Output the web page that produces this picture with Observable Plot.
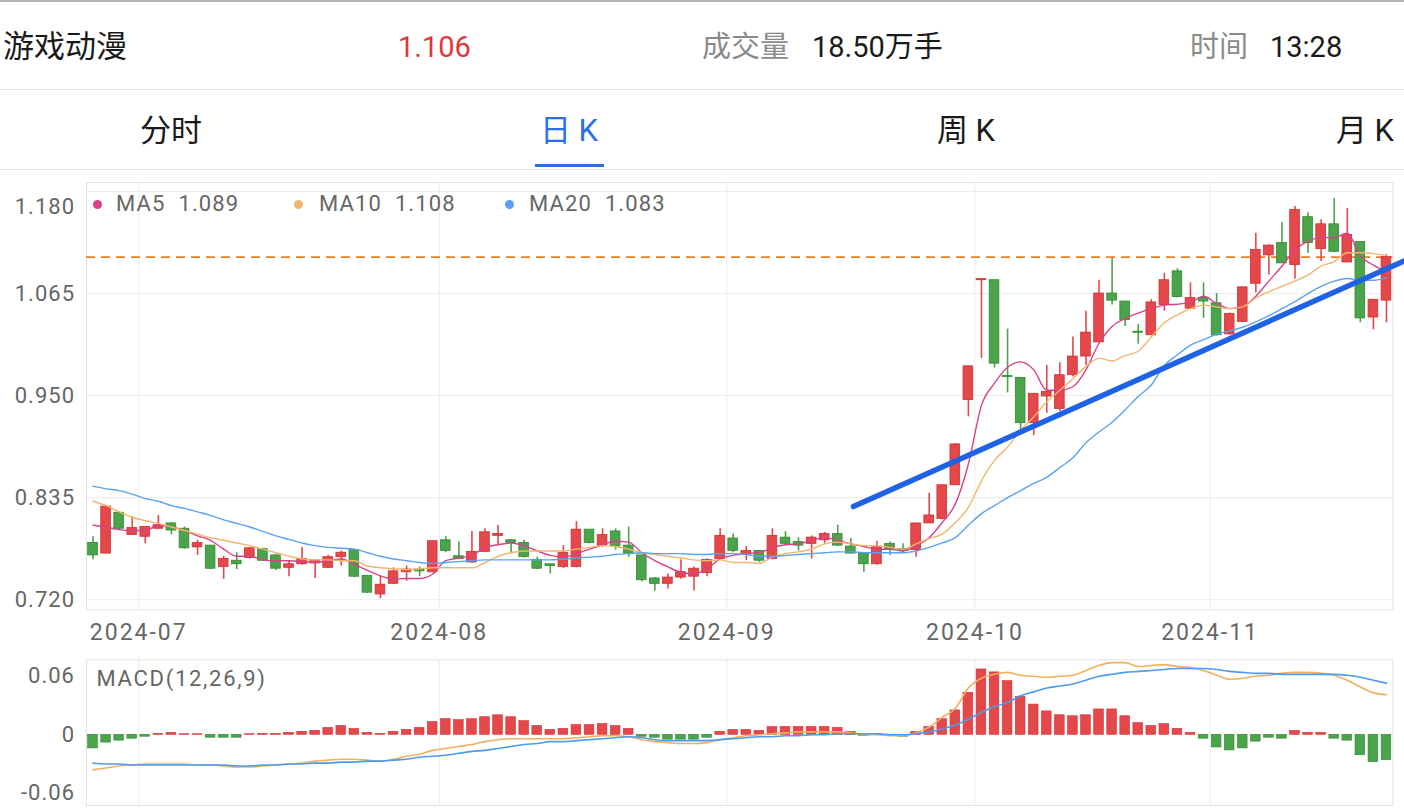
<!DOCTYPE html>
<html><head><meta charset="utf-8">
<script src="https://cdn.jsdelivr.net/npm/d3@7"></script>
<script src="https://cdn.jsdelivr.net/npm/@observablehq/plot@0.6"></script>
<style>
html,body{margin:0;padding:0;background:#fff}
body{width:1404px;height:808px;overflow:hidden;position:relative;font-family:Roboto,"Noto Sans CJK SC",sans-serif}
.abs{position:absolute;white-space:nowrap}
.h1{font-size:29px;line-height:40px;top:27px;color:#1a1a1a}
.big{font-size:31px}
.gray{color:#8a8a8a}
.tab{font-size:31px;line-height:40px;top:111px;color:#1a1a1a;transform:translateX(-50%)}
.hr{position:absolute;left:0;width:1404px;height:1px;background:#e6e6e6}
.leg{font-size:22px;line-height:26px;top:191px;color:#666;letter-spacing:1.1px}
.dot{position:absolute;width:9px;height:9px;border-radius:50%;top:200px}
#main{position:absolute;left:0;top:170px}
#macd{position:absolute;left:0;top:650px}
#main g[aria-label="x-axis tick label"]{letter-spacing:2px;font-size:23px}
g[aria-label="y-axis tick label"]{letter-spacing:1px}
#macd g[aria-label="text"]{letter-spacing:1.7px}
</style></head><body>
<div class="hr" style="top:0;height:2px;background:#b5b5b5"></div>
<div id="hdr"></div>
<div class="hr" style="top:89px"></div>
<div class="hr" style="top:169px"></div>
<div style="position:absolute;left:535px;top:164px;width:69px;height:3px;background:#2a6fe8"></div>
<div id="main"></div>
<div id="macd"></div>
<div id="legend"></div>
<script>
// ---- header info ----
const stockName = "游戏动漫";
const lastPrice = "1.106";
const volumeLabel = "成交量", volumeValue = "18.50万手";
const timeLabel = "时间", timeValue = "13:28";
const tabs = ["分时", "日 K", "周 K", "月 K"];
const activeTab = "日 K";

// ---- daily candles (index 0 = 2024-06-25 ... 99 = 2024-11-20) ----
const open  = [0.784,0.772,0.818,0.793,0.791,0.800,0.806,0.800,0.779,0.781,0.757,0.764,0.767,0.777,0.770,0.756,0.760,0.761,0.756,0.768,0.776,0.747,0.726,0.738,0.751,0.754,0.751,0.787,0.769,0.762,0.774,0.792,0.787,0.784,0.765,0.760,0.757,0.757,0.799,0.781,0.797,0.781,0.770,0.744,0.738,0.745,0.746,0.750,0.766,0.789,0.771,0.775,0.766,0.790,0.785,0.783,0.787,0.794,0.780,0.772,0.760,0.783,0.777,0.776,0.806,0.811,0.849,0.945,1.080,1.080,0.972,0.970,0.919,0.949,0.935,0.973,0.994,1.010,1.065,1.056,1.022,1.018,1.052,1.090,1.048,1.060,1.054,1.019,1.033,1.076,1.108,1.122,1.097,1.151,1.115,1.143,1.100,1.123,1.038,1.057];
const high  = [0.791,0.825,0.818,0.814,0.802,0.815,0.807,0.802,0.787,0.781,0.769,0.773,0.779,0.778,0.771,0.764,0.779,0.765,0.770,0.775,0.777,0.747,0.747,0.756,0.758,0.757,0.786,0.791,0.785,0.797,0.800,0.804,0.788,0.787,0.768,0.760,0.781,0.808,0.799,0.800,0.800,0.802,0.770,0.745,0.749,0.765,0.757,0.766,0.800,0.794,0.780,0.775,0.800,0.797,0.790,0.792,0.796,0.804,0.789,0.773,0.786,0.785,0.783,0.806,0.840,0.849,0.896,0.983,1.081,1.080,1.025,0.970,0.952,0.984,0.987,1.016,1.045,1.080,1.105,1.056,1.030,1.058,1.088,1.093,1.077,1.077,1.065,1.043,1.072,1.133,1.120,1.145,1.163,1.156,1.148,1.172,1.161,1.123,1.058,1.109];
const low   = [0.765,0.772,0.799,0.793,0.783,0.800,0.793,0.777,0.770,0.754,0.743,0.754,0.766,0.763,0.753,0.746,0.759,0.744,0.755,0.758,0.745,0.727,0.721,0.737,0.741,0.746,0.751,0.773,0.765,0.761,0.773,0.782,0.773,0.767,0.754,0.749,0.755,0.756,0.783,0.779,0.776,0.768,0.740,0.730,0.732,0.743,0.730,0.746,0.765,0.773,0.764,0.762,0.765,0.781,0.775,0.766,0.783,0.780,0.772,0.751,0.759,0.770,0.772,0.768,0.806,0.810,0.849,0.926,0.992,0.981,0.953,0.911,0.905,0.930,0.932,0.971,0.984,1.009,1.052,1.028,1.008,1.018,1.045,1.060,1.047,1.037,1.017,1.018,1.033,1.066,1.086,1.099,1.081,1.110,1.101,1.111,1.100,1.032,1.024,1.032];
const close = [0.770,0.825,0.800,0.801,0.802,0.804,0.798,0.778,0.784,0.755,0.766,0.760,0.778,0.764,0.755,0.760,0.766,0.764,0.768,0.773,0.746,0.728,0.737,0.752,0.754,0.752,0.786,0.775,0.766,0.774,0.796,0.794,0.784,0.768,0.755,0.758,0.773,0.799,0.784,0.793,0.780,0.772,0.742,0.738,0.745,0.751,0.755,0.765,0.792,0.775,0.775,0.764,0.792,0.783,0.781,0.790,0.794,0.781,0.772,0.760,0.779,0.777,0.775,0.806,0.815,0.849,0.895,0.983,1.081,0.986,0.971,0.919,0.952,0.954,0.973,0.994,1.021,1.065,1.057,1.035,1.021,1.055,1.080,1.061,1.060,1.056,1.018,1.042,1.072,1.114,1.119,1.099,1.159,1.122,1.143,1.112,1.131,1.037,1.058,1.106];

// ---- moving averages as shown ----
const ma5  = [0.804,0.802,0.799,0.798,0.798,0.804,0.802,0.798,0.792,0.787,0.777,0.769,0.769,0.765,0.764,0.764,0.763,0.762,0.764,0.766,0.760,0.753,0.747,0.743,0.744,0.744,0.749,0.764,0.767,0.770,0.779,0.782,0.784,0.781,0.775,0.770,0.768,0.772,0.777,0.782,0.786,0.785,0.773,0.764,0.757,0.751,0.749,0.755,0.766,0.770,0.772,0.773,0.779,0.782,0.783,0.787,0.790,0.787,0.783,0.780,0.777,0.777,0.775,0.781,0.790,0.807,0.828,0.873,0.939,0.964,0.982,0.988,0.979,0.956,0.956,0.960,0.979,1.009,1.028,1.037,1.043,1.048,1.052,1.053,1.055,1.062,1.054,1.048,1.050,1.062,1.079,1.096,1.114,1.124,1.128,1.128,1.133,1.107,1.097,1.089];
const ma10 = [0.831,0.826,0.819,0.813,0.809,0.806,0.802,0.798,0.794,0.790,0.787,0.784,0.781,0.777,0.773,0.769,0.766,0.765,0.765,0.764,0.764,0.758,0.756,0.755,0.754,0.755,0.756,0.756,0.756,0.756,0.762,0.769,0.773,0.775,0.775,0.775,0.775,0.777,0.779,0.781,0.780,0.777,0.773,0.771,0.769,0.767,0.765,0.764,0.765,0.762,0.762,0.761,0.768,0.772,0.774,0.777,0.783,0.785,0.783,0.781,0.781,0.779,0.777,0.783,0.789,0.794,0.807,0.824,0.854,0.877,0.892,0.911,0.926,0.943,0.956,0.969,0.983,0.992,0.989,0.995,1.000,1.016,1.032,1.041,1.048,1.052,1.050,1.048,1.050,1.060,1.067,1.073,1.079,1.086,1.096,1.101,1.111,1.111,1.110,1.108];
const ma20 = [0.848,0.845,0.843,0.839,0.834,0.831,0.826,0.823,0.819,0.815,0.810,0.806,0.802,0.797,0.792,0.788,0.784,0.781,0.779,0.778,0.777,0.773,0.769,0.766,0.764,0.762,0.761,0.762,0.763,0.764,0.765,0.765,0.765,0.765,0.765,0.765,0.766,0.767,0.768,0.769,0.771,0.772,0.773,0.772,0.772,0.772,0.771,0.771,0.772,0.772,0.771,0.769,0.769,0.770,0.771,0.772,0.773,0.774,0.774,0.773,0.773,0.773,0.773,0.775,0.779,0.784,0.790,0.804,0.817,0.826,0.835,0.843,0.851,0.858,0.869,0.880,0.897,0.909,0.920,0.934,0.949,0.962,0.984,0.996,1.007,1.013,1.019,1.023,1.027,1.033,1.040,1.048,1.056,1.065,1.073,1.079,1.082,1.080,1.080,1.083];

// ---- MACD(12,26,9) as shown ----
const macdHist = [-0.014,-0.008,-0.006,-0.004,-0.002,0.001,0.002,0.0006,0.0006,-0.003,-0.003,-0.003,0.0006,0.001,0.001,0.002,0.003,0.004,0.007,0.009,0.006,0.002,0.001,0.003,0.005,0.007,0.013,0.016,0.015,0.016,0.018,0.020,0.018,0.014,0.009,0.005,0.006,0.010,0.010,0.011,0.009,0.006,-0.002,-0.003,-0.005,-0.005,-0.005,-0.003,0.003,0.005,0.005,0.004,0.008,0.008,0.008,0.008,0.008,0.007,0.003,-0.001,0.001,-0.001,-0.002,0.003,0.008,0.016,0.025,0.043,0.067,0.064,0.055,0.039,0.031,0.024,0.020,0.019,0.020,0.026,0.026,0.019,0.012,0.009,0.011,0.006,0.002,-0.004,-0.013,-0.016,-0.014,-0.007,-0.003,-0.004,0.004,0.002,0.002,-0.004,-0.006,-0.021,-0.028,-0.026];
const dif = [-0.036,-0.034,-0.032,-0.031,-0.030,-0.030,-0.030,-0.030,-0.031,-0.031,-0.032,-0.033,-0.033,-0.032,-0.031,-0.030,-0.029,-0.027,-0.026,-0.025,-0.025,-0.026,-0.027,-0.025,-0.022,-0.020,-0.016,-0.014,-0.012,-0.010,-0.007,-0.005,-0.004,-0.004,-0.004,-0.004,-0.004,-0.003,-0.002,-0.001,-0.001,-0.002,-0.005,-0.007,-0.008,-0.009,-0.009,-0.008,-0.005,-0.003,-0.001,0.000,0.001,0.002,0.003,0.003,0.003,0.003,0.002,0.000,0.000,-0.001,-0.001,0.002,0.008,0.018,0.027,0.048,0.058,0.062,0.064,0.061,0.060,0.059,0.060,0.061,0.066,0.071,0.074,0.074,0.070,0.071,0.072,0.070,0.069,0.066,0.061,0.057,0.058,0.060,0.061,0.063,0.064,0.064,0.063,0.061,0.056,0.049,0.043,0.041];
const dea = [-0.029,-0.030,-0.030,-0.031,-0.031,-0.031,-0.031,-0.031,-0.031,-0.031,-0.031,-0.032,-0.032,-0.031,-0.031,-0.030,-0.030,-0.029,-0.029,-0.028,-0.028,-0.027,-0.027,-0.026,-0.025,-0.023,-0.022,-0.021,-0.019,-0.017,-0.016,-0.014,-0.012,-0.010,-0.009,-0.007,-0.007,-0.006,-0.005,-0.004,-0.003,-0.002,-0.003,-0.005,-0.006,-0.006,-0.006,-0.006,-0.005,-0.004,-0.003,-0.002,-0.002,-0.001,-0.001,0.000,0.000,0.001,0.001,0.001,0.001,0.000,0.000,0.001,0.003,0.006,0.010,0.016,0.023,0.029,0.033,0.040,0.044,0.048,0.050,0.052,0.056,0.060,0.062,0.064,0.065,0.066,0.067,0.068,0.068,0.068,0.067,0.065,0.064,0.063,0.063,0.062,0.062,0.062,0.062,0.062,0.061,0.059,0.056,0.053];

// ---- axes / annotations ----
const monthLabels = ["2024-07","2024-08","2024-09","2024-10","2024-11"];
const monthFirstIdx = [4, 27, 49, 68, 86];
const priceTicks = [0.720, 0.835, 0.950, 1.065, 1.180];
const macdTicks = [-0.06, 0, 0.06];
const refPrice = 1.106;
const trendLine = [{i: 58.2, p: 0.825}, {i: 100.4, p: 1.102}];
const maNames = ["MA5", "MA10", "MA20"];
const macdTitle = "MACD(12,26,9)";

const RED = "#e5484a", RED_D = "#cf2f31", GREEN = "#4ba34b", GREEN_D = "#2f8a2f";
const C_MA5 = "#d9418a", C_MA10 = "#f1b56c", C_MA20 = "#5aa2f0";
const C_DIF = "#f0b05e", C_DEA = "#4b9bf0";
const GRID = "#ebebeb";
const FONT = 'Roboto, "Noto Sans CJK SC", sans-serif';

// ---- header ----
const hdr = document.getElementById("hdr");
function addText(parent, cls, txt, left, color) {
  const d = document.createElement("div");
  d.className = "abs " + cls; d.textContent = txt; d.style.left = left + "px";
  if (color) d.style.color = color;
  parent.appendChild(d); return d;
}
addText(hdr, "h1 big", stockName, 3);
addText(hdr, "h1", lastPrice, 398, "#e0383b");
addText(hdr, "h1 gray", volumeLabel, 702);
addText(hdr, "h1", volumeValue, 812);
addText(hdr, "h1 gray", timeLabel, 1190);
addText(hdr, "h1", timeValue, 1270);
const tabCenters = [171, 569, 966, 1365];
tabs.forEach((t, k) => addText(hdr, "tab", t, tabCenters[k], t === activeTab ? "#2a6fe8" : null));

// ---- data tables ----
const candles = open.map((o, i) => ({i, o, h: high[i], l: low[i], c: close[i], up: close[i] >= o}));
const maRows = [ma5, ma10, ma20].flatMap((arr, k) => arr.map((v, i) => ({i, v, s: maNames[k]})));
const macdRows = macdHist.map((v, i) => ({i, v}));
const lineRows = [dif, dea].flatMap((arr, k) => arr.map((v, i) => ({i, v, s: k ? "DEA" : "DIF"})));
const bounds = monthFirstIdx.map((i, k) => ({x: i - 0.5, label: monthLabels[k]}));

const xDom = [-0.5, 99.5];
const bodyHalf = 0.37;
const minBody = 0.0012;

const main = Plot.plot({
  width: 1404, height: 480,
  marginLeft: 86, marginRight: 11.5, marginTop: 12, marginBottom: 40.7,
  x: {domain: xDom, axis: null},
  y: {domain: [0.7087, 1.1901], axis: null},
  color: {domain: maNames, range: [C_MA5, C_MA10, C_MA20]},
  style: {fontFamily: FONT, fontSize: "22px", color: "#666", background: "transparent"},
  marks: [
    Plot.ruleY(priceTicks, {stroke: GRID}),
    Plot.ruleX(bounds, {x: "x", stroke: GRID}),
    Plot.frame({stroke: "#e2e2e2"}),
    Plot.axisY(priceTicks.slice(0, 4), {label: null, tickSize: 0, tickPadding: 11.5, tickFormat: d3.format(".3f"), fill: "#666"}),
    Plot.axisY(priceTicks.slice(4), {label: null, tickSize: 0, tickPadding: 11.5, dy: 15, tickFormat: d3.format(".3f"), fill: "#666"}),
    Plot.axisX(bounds.map(d => d.x), {label: null, tickSize: 0, tickPadding: 14, tickFormat: (d, k) => bounds[k].label, fill: "#666"}),
    Plot.ruleY([refPrice], {stroke: "#ef7d22", strokeWidth: 1.6, strokeDasharray: "9,6"}),
    Plot.ruleX(candles, {x: "i", y1: "l", y2: "h", stroke: d => d.up ? RED : GREEN, strokeWidth: 1.6}),
    Plot.rect(candles, {
      x1: d => d.i - bodyHalf, x2: d => d.i + bodyHalf,
      y1: "o", y2: d => Math.abs(d.c - d.o) < minBody ? d.o + (d.up ? minBody : -minBody) : d.c,
      fill: d => d.up ? RED : GREEN, stroke: d => d.up ? RED_D : GREEN_D, strokeWidth: 0.8
    }),
    Plot.line(maRows, {x: "i", y: "v", z: "s", stroke: "s", strokeWidth: 1.4, curve: "monotone-x"}),
    Plot.line(trendLine, {x: "i", y: "p", stroke: "#1f62e6", strokeWidth: 5.5, strokeLinecap: "round"})
  ]
});
document.getElementById("main").appendChild(main);

const macd = Plot.plot({
  width: 1404, height: 158,
  marginLeft: 86, marginRight: 11.5, marginTop: 9.3, marginBottom: 3,
  x: {domain: xDom, axis: null},
  y: {domain: [-0.0725, 0.0769], axis: null},
  style: {fontFamily: FONT, fontSize: "22px", color: "#666", background: "transparent"},
  marks: [
    Plot.ruleX(bounds, {x: "x", stroke: GRID}),
    Plot.frame({stroke: "#e2e2e2"}),
    Plot.axisY(macdTicks, {label: null, tickSize: 0, tickPadding: 11.5, tickFormat: d => d === 0 ? "0" : (d < 0 ? "-" : "") + Math.abs(d).toFixed(2), fill: "#666"}),
    Plot.rect(macdRows, {
      x1: d => d.i - bodyHalf, x2: d => d.i + bodyHalf, y1: 0, y2: "v",
      fill: d => d.v >= 0 ? RED : GREEN, stroke: d => d.v >= 0 ? RED_D : GREEN_D, strokeWidth: 0.6
    }),
    Plot.line(lineRows, {x: "i", y: "v", z: "s", stroke: d => d.s === "DIF" ? C_DIF : C_DEA, strokeWidth: 1.6, curve: "monotone-x"}),
    Plot.text([macdTitle], {frameAnchor: "top-left", dx: 10, dy: 11, fill: "#666", fontSize: 22, textAnchor: "start", lineAnchor: "top"})
  ]
});
document.getElementById("macd").appendChild(macd);

// ---- MA legend (latest values) ----
const leg = document.getElementById("legend");
const legX = [{dot: 93, text: 116}, {dot: 294, text: 319}, {dot: 505, text: 529}];
[[maNames[0], ma5, C_MA5], [maNames[1], ma10, C_MA10], [maNames[2], ma20, C_MA20]].forEach(([n, arr, col], k) => {
  const d = document.createElement("div"); d.className = "dot";
  d.style.left = legX[k].dot + "px"; d.style.background = col; leg.appendChild(d);
  const t = addText(leg, "leg", "", legX[k].text);
  t.innerHTML = n + '<span style="margin-left:13px">' + arr[arr.length - 1].toFixed(3) + '</span>';
});
</script>
</body></html>
